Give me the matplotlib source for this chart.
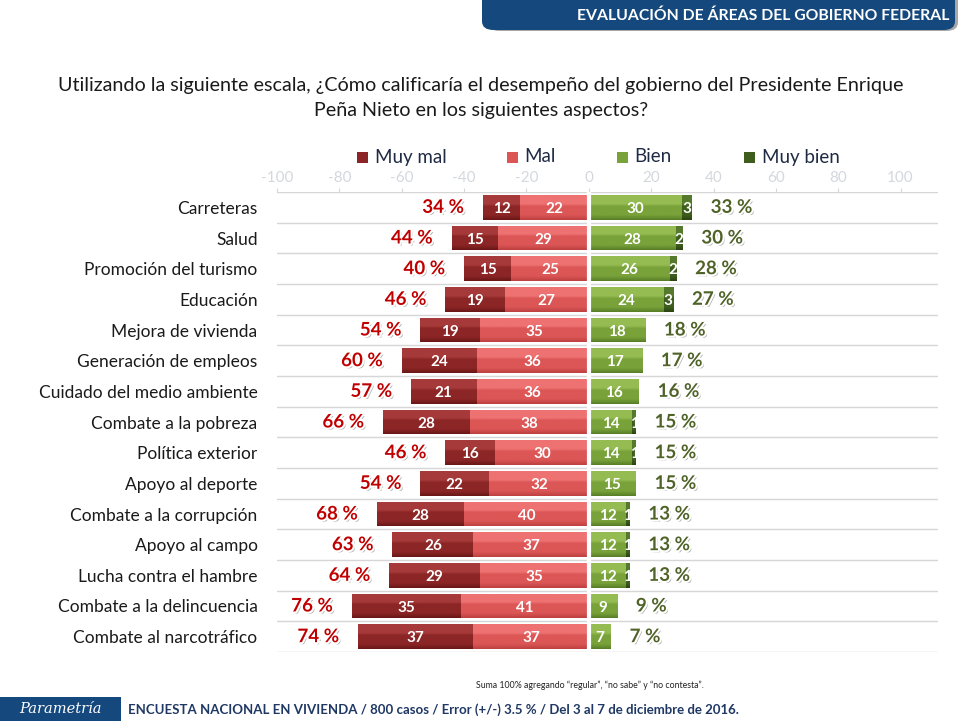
import matplotlib
matplotlib.use('Agg')
import matplotlib.pyplot as plt
import matplotlib.patheffects as pe
from matplotlib.patches import Rectangle, FancyBboxPatch
from matplotlib.colors import LinearSegmentedColormap
import numpy as np

plt.rcParams['font.family'] = ['Lato', 'DejaVu Sans']

categories = ['Carreteras', 'Salud', 'Promoción del turismo', 'Educación',
              'Mejora de vivienda', 'Generación de empleos',
              'Cuidado del medio ambiente', 'Combate a la pobreza',
              'Política exterior', 'Apoyo al deporte',
              'Combate a la corrupción', 'Apoyo al campo',
              'Lucha contra el hambre', 'Combate a la delincuencia',
              'Combate al narcotráfico']
muy_mal = [12, 15, 15, 19, 19, 24, 21, 28, 16, 22, 28, 26, 29, 35, 37]
mal = [22, 29, 25, 27, 35, 36, 36, 38, 30, 32, 40, 37, 35, 41, 37]
bien = [30, 28, 26, 24, 18, 17, 16, 14, 14, 15, 12, 12, 12, 9, 7]
muy_bien = [3, 2, 2, 3, 0, 0, 0, 1, 1, 0, 1, 1, 1, 0, 0]
total_mal = [34, 44, 40, 46, 54, 60, 57, 66, 46, 54, 68, 63, 64, 76, 74]
total_bien = [33, 30, 28, 27, 18, 17, 16, 15, 15, 15, 13, 13, 13, 9, 7]
series_names = ['Muy mal', 'Mal', 'Bien', 'Muy bien']
x_ticks = list(range(-100, 101, 20))

# (light, base, dark) per series
palette = {
    'Muy mal': ('#A63A3A', '#8C2626', '#6A1616'),
    'Mal': ('#EE7272', '#DC5656', '#BE4040'),
    'Bien': ('#95BC52', '#79A23A', '#587E26'),
    'Muy bien': ('#557A2C', '#3F5E1E', '#2B4412'),
}

W, H = 961, 721
fig = plt.figure(figsize=(W / 100, H / 100), dpi=100)
fig.patch.set_facecolor('white')

ax = fig.add_axes([277 / W, 1 - 652 / H, (938 - 277) / W, (652 - 192) / H])
ax.set_facecolor('none')

y = np.arange(len(categories))
bar_h = 0.8
left_mm = [-(a + b) for a, b in zip(muy_mal, mal)]
left_m = [-b for b in mal]
segments = [
    ('Muy mal', left_mm, muy_mal),
    ('Mal', left_m, mal),
    ('Bien', [0] * len(bien), bien),
    ('Muy bien', bien, muy_bien),
]

for name, lefts, widths in segments:
    light, base, dark = palette[name]
    cmap = LinearSegmentedColormap.from_list(
        name, [(0, light), (0.35, light), (0.45, base), (0.8, base), (1, dark)])
    bars = ax.barh(y, widths, left=lefts, height=bar_h, color=base,
                   linewidth=0, zorder=2)
    grad = np.linspace(0, 1, 64).reshape(-1, 1)
    for bar, l, w in zip(bars, lefts, widths):
        if w == 0:
            continue
        by = bar.get_y()
        im = ax.imshow(grad, cmap=cmap, aspect='auto', origin='upper',
                       extent=(l, l + w, by + bar_h, by), zorder=3)
        im.set_clip_path(bar)
    for yi, l, w in zip(y, lefts, widths):
        if w == 0:
            continue
        ax.text(l + w / 2, yi + 0.05, str(w), ha='center', va='center',
                color='white', fontsize=11, fontweight='bold', zorder=5)

# gap at zero
ax.axvline(0, color='white', linewidth=3, zorder=4)

# row separators
for k in range(len(categories) + 1):
    ax.axhline(k - 0.5, color='#D6D6D6', linewidth=1, zorder=1)

total_fx = [pe.SimplePatchShadow(offset=(1.5, -1.5), shadow_rgbFace='#777777', alpha=0.6),
            pe.withStroke(linewidth=3, foreground='white')]
for yi, lm, tm, tb in zip(y, left_mm, total_mal, total_bien):
    ax.annotate(f'{tm} %', xy=(lm, yi), xytext=(-19, 0), textcoords='offset pixels',
                ha='right', va='center', fontsize=13.5, fontweight='bold',
                color='#C00000', path_effects=total_fx, zorder=6)
    ax.annotate(f'{tb} %', xy=(tb, yi), xytext=(19, 0), textcoords='offset pixels',
                ha='left', va='center', fontsize=13.5, fontweight='bold',
                color='#4F6228', path_effects=total_fx, zorder=6)

ax.set_xlim(-100, 112)
ax.set_ylim(len(categories) - 0.5, -0.5)
ax.xaxis.tick_top()
ax.set_xticks(x_ticks)
ax.set_xticklabels([str(t) for t in x_ticks])
ax.tick_params(axis='x', colors='#D3D8DE', labelsize=11, length=3, pad=2)
ax.set_yticks(y)
ax.set_yticklabels(categories, fontsize=12.5, color='#1A1A1A')
ax.tick_params(axis='y', length=0, pad=14)
for s in ax.spines.values():
    s.set_visible(False)

# legend (manual)
for (sx, tx, name) in [(357, 375, 'Muy mal'), (507, 524, 'Mal'),
                       (617, 634, 'Bien'), (744, 762, 'Muy bien')]:
    fig.patches.append(Rectangle((sx / W, 1 - 163 / H), 11 / W, 11 / H,
                                 transform=fig.transFigure,
                                 facecolor=palette[name][1], edgecolor='none'))
    fig.text(tx / W, 1 - 157 / H, name, fontsize=13.5, color='#1F2A44',
             ha='left', va='center')

# title
fig.text(481 / W, 1 - 98 / H,
         'Utilizando la siguiente escala, ¿Cómo calificaría el desempeño del gobierno del Presidente Enrique\n'
         'Peña Nieto en los siguientes aspectos?',
         fontsize=14.2, ha='center', va='center', color='#1A1A1A', linespacing=1.55)

# header band
fig.patches.append(FancyBboxPatch((488 / W, 1 - 31 / H), 470 / W, 40 / H,
                                  boxstyle='round,pad=0,rounding_size=0.012',
                                  transform=fig.transFigure,
                                  facecolor='#A8A8A8', edgecolor='none', zorder=0))
fig.patches.append(FancyBboxPatch((482 / W, 1 - 30 / H), 473 / W, 40 / H,
                                  boxstyle='round,pad=0,rounding_size=0.012',
                                  transform=fig.transFigure,
                                  facecolor='#15497E', edgecolor='none', zorder=1))
fig.text(949 / W, 1 - 16 / H, 'EVALUACIÓN DE ÁREAS DEL GOBIERNO FEDERAL',
         fontsize=11.3, fontweight='bold', color='white', ha='right', va='center')

# footer
fig.patches.append(Rectangle((0, 0), 121 / W, 24 / H, transform=fig.transFigure,
                             facecolor='#15497E', edgecolor='none'))
fig.text(60 / W, 1 - 709 / H, 'Parametría', fontsize=10.5, style='italic',
         family='DejaVu Serif', color='white', ha='center', va='center')
fig.text(128 / W, 1 - 710 / H,
         'ENCUESTA NACIONAL EN VIVIENDA / 800 casos / Error (+/-) 3.5 % / Del 3 al 7 de diciembre de 2016.',
         fontsize=9.5, fontweight='bold', color='#1F3864', ha='left', va='center')
fig.text(590 / W, 1 - 685 / H,
         'Suma 100% agregando “regular”, “no sabe” y “no contesta”.',
         fontsize=6.3, color='#222222', ha='center', va='center')

fig.savefig('out.png', dpi=100)
